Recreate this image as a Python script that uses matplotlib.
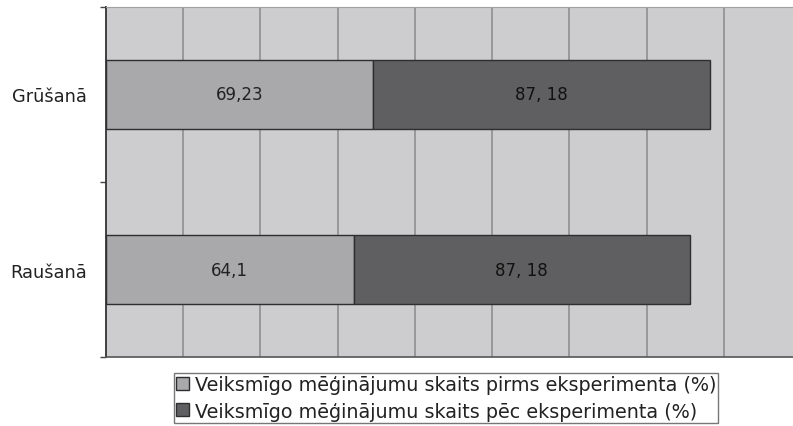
import matplotlib
matplotlib.use("Agg")
import matplotlib.pyplot as plt
from matplotlib.patches import Patch

categories = ["Raušanā", "Grūšanā"]
before = [64.1, 69.23]
after = [87.18, 87.18]
before_labels = ["64,1", "69,23"]
after_labels = ["87, 18", "87, 18"]
series_names = [
    "Veiksmīgo mēģinājumu skaits pirms eksperimenta (%)",
    "Veiksmīgo mēģinājumu skaits pēc eksperimenta (%)",
]

plt.rcParams["font.family"] = ["DejaVu Sans"]

fig = plt.figure(figsize=(7.93, 4.27), dpi=100)
ax = fig.add_axes([106 / 793, 1 - 358 / 427, 1 - 106 / 793, 350 / 427])
ax.set_facecolor("#cdcdcf")

c_before = "#a9a9ab"
c_after = "#5f5f61"
edge = "#2e2e2e"
y = list(range(len(categories)))
h = 0.39
ax.barh(y, before, height=h, color=c_before, edgecolor=edge, linewidth=1.0, zorder=3)
ax.barh(y, after, left=before, height=h, color=c_after, edgecolor=edge, linewidth=1.0, zorder=3)

for i in y:
    ax.text(before[i] / 2, i, before_labels[i], ha="center", va="center",
            fontsize=12, color="#222222", zorder=4)
    ax.text(before[i] + after[i] / 2, i, after_labels[i], ha="center", va="center",
            fontsize=12, color="#111111", zorder=4)

ax.set_xlim(0, 177.9)
ax.set_ylim(-0.5, len(categories) - 0.5)
ax.set_xticks(range(20, 180, 20))
ax.tick_params(axis="x", length=0, labelbottom=False)
ax.grid(axis="x", color="#8a8a8c", linewidth=1.1, zorder=1)

ax.set_yticks(y)
ax.set_yticklabels(categories, fontsize=12.8, color="#222222")
ax.tick_params(axis="y", which="major", length=0, pad=14)
ax.set_yticks([-0.5, 0.5, 1.5], minor=True)
ax.tick_params(axis="y", which="minor", length=4, color="#444444", width=1)

ax.spines["left"].set_color("#333333")
ax.spines["left"].set_linewidth(1.3)
ax.spines["bottom"].set_color("#555555")
ax.spines["bottom"].set_linewidth(1.2)
ax.spines["top"].set_color("#a0a0a0")
ax.spines["right"].set_visible(False)

handles = [Patch(facecolor=c_before, edgecolor=edge, linewidth=1.0),
           Patch(facecolor=c_after, edgecolor=edge, linewidth=1.0)]
leg = fig.legend(handles, series_names, loc="upper left",
                 bbox_to_anchor=(174 / 793, 1 - 374 / 427),
                 fontsize=13.8, frameon=True, fancybox=False,
                 handlelength=0.65, handleheight=0.65, handletextpad=0.3,
                 borderpad=0.12, labelspacing=0.38, borderaxespad=0)
leg.get_frame().set_edgecolor("#555555")
leg.get_frame().set_linewidth(1.0)
for t in leg.get_texts():
    t.set_color("#222222")

fig.savefig("out.png", dpi=100, facecolor="white")
